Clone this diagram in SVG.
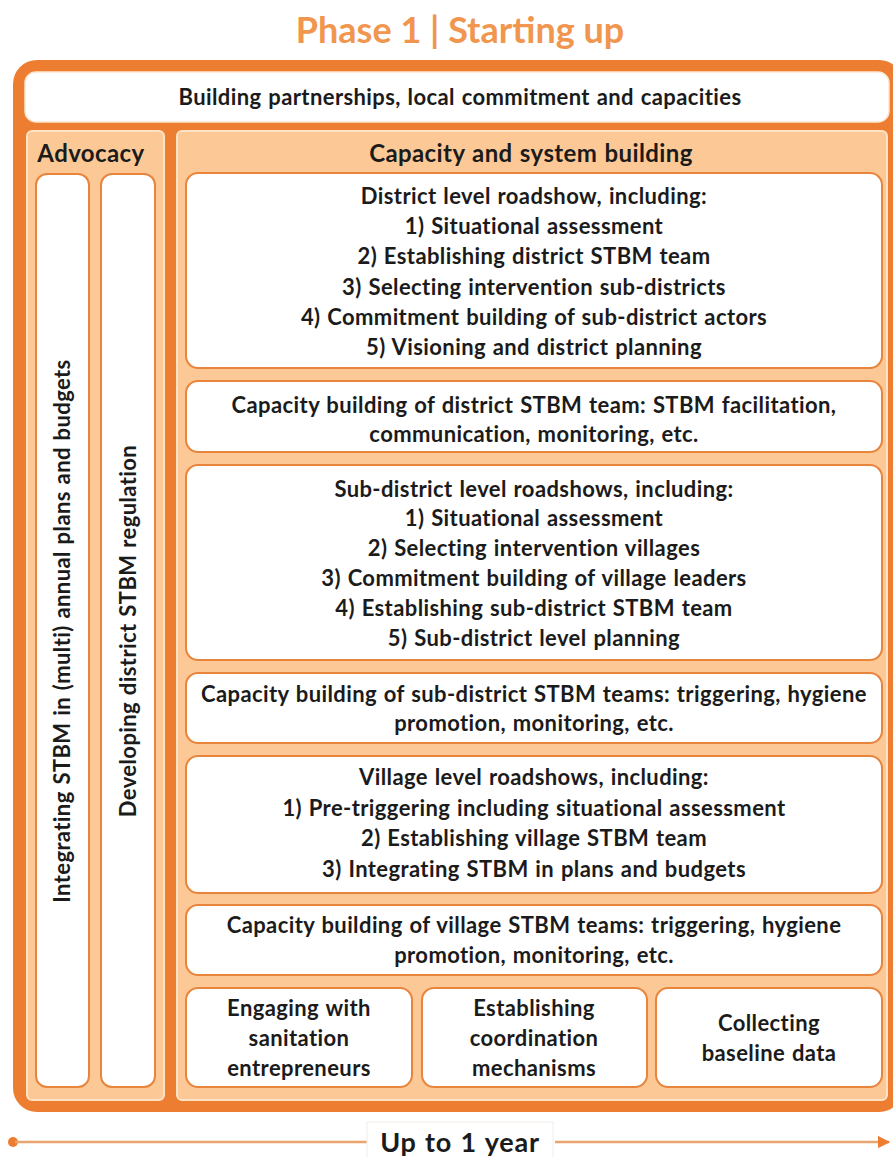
<svg xmlns="http://www.w3.org/2000/svg" width="893" height="1157" viewBox="0 0 893 1157">
  <defs>
    <style>
      .t { font-family: Lato, "Liberation Sans", sans-serif; font-weight: bold; font-size: 22px; letter-spacing: 0.4px; word-spacing: 1px; fill: #1b1b1b; text-anchor: middle; }
      .hd { font-size: 24px; }
      .panel { fill: #fcc996; stroke: #fee2c6; stroke-width: 2; }
      .box { fill: #ffffff; stroke: #e9843c; stroke-width: 2; }
      .tl { stroke: #e9a46f; stroke-width: 2.5; fill: none; }
    </style>
    <marker id="arrow" viewBox="0 0 10 10" refX="9" refY="5" markerWidth="5" markerHeight="5" orient="auto" markerUnits="strokeWidth">
      <path d="M0,0 L10,5 L0,10 z" fill="#ed7d31"/>
    </marker>
  </defs>

  <rect width="893" height="1157" fill="#ffffff"/>

  <!-- title -->
  <text id="title" x="460" y="43" style="font-family: Lato, 'Liberation Sans', sans-serif; font-weight: bold; font-size: 36px; fill: #f0964f; text-anchor: middle;">Phase 1 | Starting up</text>

  <!-- outer frame -->
  <rect id="frame" x="13" y="60" width="890" height="1052" rx="24" fill="#ed7d31"/>

  <g id="partnerships">
    <rect x="25" y="72" width="864" height="50" rx="11" fill="#ffffff" stroke="#fde6cf" stroke-width="1.5"/>
    <text class="t" x="460" y="105">Building partnerships, local commitment and capacities</text>
  </g>

  <!-- advocacy column -->
  <g id="advocacy">
    <rect class="panel" x="27" y="131" width="137" height="969" rx="5"/>
    <text class="t hd" x="91" y="162">Advocacy</text>
  </g>
  <g id="integrating">
    <rect class="box" x="36" y="174" width="53" height="913" rx="11"/>
    <text class="t" transform="translate(70,631) rotate(-90)">Integrating STBM in (multi) annual plans and budgets</text>
  </g>
  <g id="regulation">
    <rect class="box" x="101" y="174" width="54" height="913" rx="11"/>
    <text class="t" transform="translate(136,631) rotate(-90)">Developing district STBM regulation</text>
  </g>

  <!-- capacity and system building column -->
  <g id="capacity">
    <rect class="panel" x="177" y="131" width="710" height="969" rx="5"/>
    <text class="t hd" x="531" y="162">Capacity and system building</text>
  </g>

  <g id="district-roadshow">
    <rect class="box" x="186" y="173" width="696" height="195" rx="12"/>
    <text class="t" x="534" y="204">District level roadshow, including:</text>
    <text class="t" x="534" y="234">1) Situational assessment</text>
    <text class="t" x="534" y="264">2) Establishing district STBM team</text>
    <text class="t" x="534" y="295">3) Selecting intervention sub-districts</text>
    <text class="t" x="534" y="325">4) Commitment building of sub-district actors</text>
    <text class="t" x="534" y="355">5) Visioning and district planning</text>
  </g>

  <g id="district-capacity">
    <rect class="box" x="186" y="381" width="696" height="71" rx="12"/>
    <text class="t" x="534" y="413">Capacity building of district STBM team: STBM facilitation,</text>
    <text class="t" x="534" y="442">communication, monitoring, etc.</text>
  </g>

  <g id="subdistrict-roadshow">
    <rect class="box" x="186" y="465" width="696" height="195" rx="12"/>
    <text class="t" x="534" y="497">Sub-district level roadshows, including:</text>
    <text class="t" x="534" y="526">1) Situational assessment</text>
    <text class="t" x="534" y="556">2) Selecting intervention villages</text>
    <text class="t" x="534" y="586">3) Commitment building of village leaders</text>
    <text class="t" x="534" y="616">4) Establishing sub-district STBM team</text>
    <text class="t" x="534" y="646">5) Sub-district level planning</text>
  </g>

  <g id="subdistrict-capacity">
    <rect class="box" x="186" y="673" width="696" height="70" rx="12"/>
    <text class="t" x="534" y="702">Capacity building of sub-district STBM teams: triggering, hygiene</text>
    <text class="t" x="534" y="731">promotion, monitoring, etc.</text>
  </g>

  <g id="village-roadshow">
    <rect class="box" x="186" y="756" width="696" height="137" rx="12"/>
    <text class="t" x="534" y="785">Village level roadshows, including:</text>
    <text class="t" x="534" y="816">1) Pre-triggering including situational assessment</text>
    <text class="t" x="534" y="846">2) Establishing village STBM team</text>
    <text class="t" x="534" y="877">3) Integrating STBM in plans and budgets</text>
  </g>

  <g id="village-capacity">
    <rect class="box" x="186" y="905" width="696" height="70" rx="12"/>
    <text class="t" x="534" y="933">Capacity building of village STBM teams: triggering, hygiene</text>
    <text class="t" x="534" y="963">promotion, monitoring, etc.</text>
  </g>

  <g id="entrepreneurs">
    <rect class="box" x="186" y="988" width="226" height="99" rx="12"/>
    <text class="t" x="299" y="1016">Engaging with</text>
    <text class="t" x="299" y="1046">sanitation</text>
    <text class="t" x="299" y="1076">entrepreneurs</text>
  </g>

  <g id="coordination">
    <rect class="box" x="422" y="988" width="225" height="99" rx="12"/>
    <text class="t" x="534" y="1016">Establishing</text>
    <text class="t" x="534" y="1046">coordination</text>
    <text class="t" x="534" y="1076">mechanisms</text>
  </g>

  <g id="baseline">
    <rect class="box" x="656" y="988" width="226" height="99" rx="12"/>
    <text class="t" x="769" y="1031">Collecting</text>
    <text class="t" x="769" y="1061">baseline data</text>
  </g>

  <!-- timeline -->
  <g id="timeline-connectors">
    <circle cx="13" cy="1142" r="5" fill="#ed7d31"/>
    <line class="tl" x1="15" y1="1142" x2="367" y2="1142"/>
    <line class="tl" x1="555" y1="1142" x2="889" y2="1142" marker-end="url(#arrow)"/>
  </g>
  <g id="duration">
    <rect x="367" y="1122" width="186" height="40" fill="#ffffff" stroke="#f2ece6" stroke-width="1"/>
    <text class="t" x="460" y="1152" style="font-size: 27px; letter-spacing: 0.8px;">Up to 1 year</text>
  </g>
</svg>
